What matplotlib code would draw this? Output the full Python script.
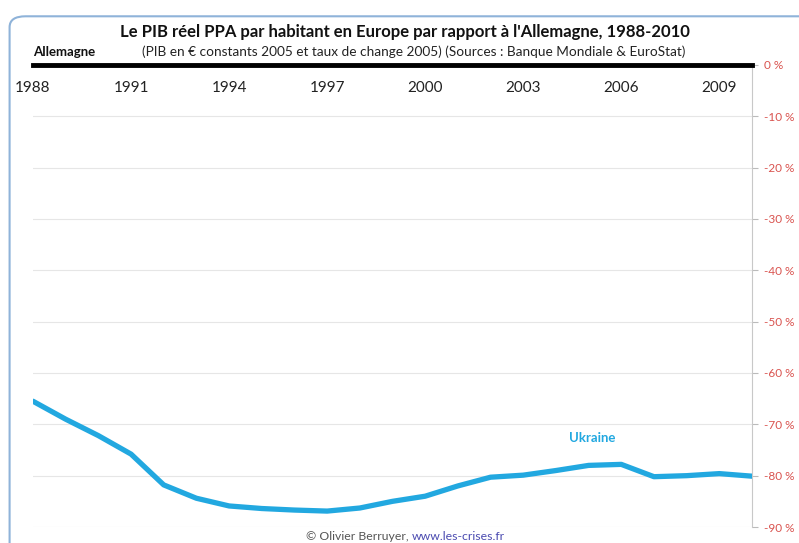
import matplotlib.pyplot as plt
from matplotlib.patches import FancyBboxPatch

plt.rcParams['font.family'] = ['Lato', 'DejaVu Sans']

# Données (écart en % par rapport à l'Allemagne)
annees = list(range(1988, 2011))
ukraine = [-65.5, -69.0, -72.2, -75.8, -81.8, -84.4, -85.9, -86.4, -86.7, -86.9,
           -86.3, -85.0, -84.0, -82.0, -80.3, -79.9, -79.0, -78.0, -77.8, -80.2,
           -80.0, -79.6, -80.1]
annees_labels = [1988, 1991, 1994, 1997, 2000, 2003, 2006, 2009]
yticks = [0, -10, -20, -30, -40, -50, -60, -70, -80, -90]

bleu = '#22a8e0'
rouge = '#d9534f'

fig = plt.figure(figsize=(7.99, 5.43), dpi=100)

# Cadre arrondi du graphique Excel
cadre = FancyBboxPatch((0.012, -0.05), 1.05, 1.02, boxstyle='round,pad=0,rounding_size=0.02',
                       transform=fig.transFigure, facecolor='none',
                       edgecolor='#8fb3d9', linewidth=1.5, zorder=-1)
fig.patches.append(cadre)

ax = fig.add_axes([33 / 799, 1 - 527 / 543, 719 / 799, (527 - 65) / 543])
ax.set_facecolor('none')
ax.set_xlim(1988, 2010)
ax.set_ylim(-90, 0)

# grille
for v in yticks[1:]:
    ax.axhline(v, color='#e6e6e6', linewidth=0.8, zorder=1)

# Allemagne = référence 0 %
ax.axhline(0, color='black', linewidth=3.5, clip_on=False, zorder=3)

ax.plot(annees, ukraine, color=bleu, linewidth=3.8, solid_joinstyle='round',
        solid_capstyle='round', zorder=4)
ax.text(2005.1, -73.5, 'Ukraine', color=bleu, fontsize=9.5, fontweight='bold', ha='center')

for a in annees_labels:
    ax.text(a, -4.5, str(a), ha='center', va='center', fontsize=11, color='#222222')

ax.yaxis.tick_right()
ax.set_yticks(yticks)
ax.set_yticklabels([f'{v} %' for v in yticks], color=rouge, fontsize=8.5)
ax.tick_params(axis='y', length=4, color='#bbbbbb', pad=5)
ax.set_xticks([])
for s in ['top', 'left', 'bottom']:
    ax.spines[s].set_visible(False)
ax.spines['right'].set_color('#c8c8c8')

# titres
fig.text(405 / 799, 1 - 32 / 543, "Le PIB réel PPA par habitant en Europe par rapport à l'Allemagne, 1988-2010",
         ha='center', va='center', fontsize=12, fontweight='bold', color='#111111')
fig.text(414 / 799, 1 - 52 / 543,
         '(PIB en € constants 2005 et taux de change 2005) (Sources : Banque Mondiale & EuroStat)',
         ha='center', va='center', fontsize=9.8, color='#222222')
fig.text(33 / 799, 1 - 52 / 543, 'Allemagne', ha='left', va='center', fontsize=9.5,
         fontweight='bold', color='#111111')

# source
fig.text(412 / 799, 1 - 537 / 543, '© Olivier Berruyer, ', ha='right', va='center',
         fontsize=8.8, color='#555555')
fig.text(412 / 799, 1 - 537 / 543, 'www.les-crises.fr', ha='left', va='center',
         fontsize=8.8, color='#4a4ab0')

plt.savefig('out.png', dpi=100)
